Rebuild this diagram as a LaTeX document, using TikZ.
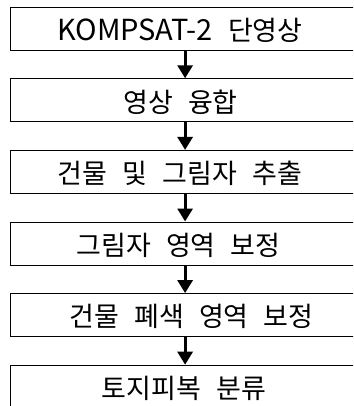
\documentclass[tikz,border=0pt]{standalone}
\usepackage{fontspec}
\setmainfont{Noto Sans CJK KR}
\newfontfamily\kr[WordSpace=2.5]{Noto Sans CJK KR}
\usetikzlibrary{arrows.meta}
\begin{document}
\begin{tikzpicture}[x=1pt,y=-1pt,
  box/.style={draw,line width=1.2pt,minimum width=360pt,minimum height=43pt,anchor=north west,inner sep=0pt},
  txt/.style={inner sep=0pt,font=\kr\fontsize{27}{27}\selectfont},
  flow/.style={line width=3pt,-{Triangle[length=13pt,width=15pt]}}]
\useasboundingbox (0,0) rectangle (353,406);
\clip (0,0) rectangle (353,406);
\node[box] (b1) at (9.5,6.7) {};
\node[box] (b2) at (9.5,78.3) {};
\node[box] (b3) at (9.5,149.9) {};
\node[box] (b4) at (9.5,221.5) {};
\node[box] (b5) at (9.5,293.1) {};
\node[box] (b6) at (9.5,364.7) {};
\node[txt] (t1) at (180,30.2) {{\fontsize{29}{29}\selectfont KOMPSAT-2} 단영상};
\node[txt] (t2) at (180.5,101.8) {영상 융합};
\node[txt] (t3) at (180,173.4) {건물 및 그림자 추출};
\node[txt] (t4) at (178.5,245) {그림자 영역 보정};
\node[txt] (t5) at (191.5,316.6) {건물 폐색 영역 보정};
\node[txt] (t6) at (184,388.2) {토지피복 분류};
\draw[flow] ([xshift=-5pt]b1.south) -- ([xshift=-5pt]b2.north);
\draw[flow] ([xshift=-5pt]b2.south) -- ([xshift=-5pt]b3.north);
\draw[flow] ([xshift=-5pt]b3.south) -- ([xshift=-5pt]b4.north);
\draw[flow] ([xshift=-5pt]b4.south) -- ([xshift=-5pt]b5.north);
\draw[flow] ([xshift=-5pt]b5.south) -- ([xshift=-5pt]b6.north);
\end{tikzpicture}
\end{document}
